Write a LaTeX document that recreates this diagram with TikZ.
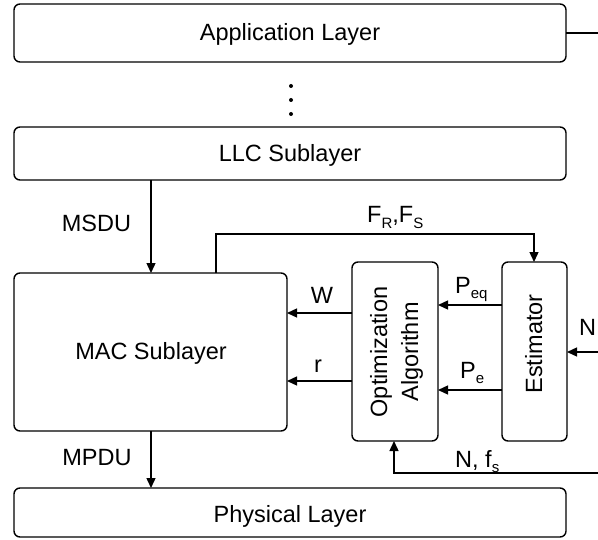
\documentclass[tikz,border=0pt]{standalone}
\usepackage{fontspec}
\setmainfont{Liberation Sans}
\usetikzlibrary{arrows.meta}
\newcommand\sbx[1]{\raisebox{-0.22em}{\fontsize{15bp}{15bp}\selectfont #1}}
\begin{document}
\begin{tikzpicture}[x=1bp,y=-1bp,
  box/.style={draw, line width=1.4bp, rounded corners=6bp, outer sep=0pt, inner sep=0pt, anchor=north west},
  lbl/.style={inner sep=0pt, anchor=base, font=\fontsize{23.5bp}{28bp}\selectfont},
  lblw/.style={lbl, anchor=base west},
  conn/.style={line width=1.4bp},
  arr/.style={conn, -{Triangle[length=10bp,width=9bp]}}]
\useasboundingbox (0,0) rectangle (598,540);

% boxes
\node[box, minimum width=552bp, minimum height=58bp] (app) at (14,4) {};
\node[box, minimum width=552bp, minimum height=53bp] (llc) at (14,127) {};
\node[box, minimum width=273bp, minimum height=158bp] (mac) at (14,273) {};
\node[box, minimum width=86bp, minimum height=179bp] (opt) at (352,262) {};
\node[box, minimum width=65bp, minimum height=179bp] (est) at (502,262) {};
\node[box, minimum width=552bp, minimum height=49bp] (phy) at (14,488) {};

% box texts
\node[lbl] (appt) at (290,41) {Application Layer};
\node[lbl] (llct) at (290,162) {LLC Sublayer};
\node[lbl] (mact) at (151,359) {MAC Sublayer};
\node[lbl] (phyt) at (290,522) {Physical Layer};
\node[lbl, rotate=90] (optt1) at (387,352) {Optimization};
\node[lbl, rotate=90] (optt2) at (418,352) {Algorithm};
\node[lbl, rotate=90] (estt) at (542,344) {Estimator};

% dots
\fill (291,86) circle (2bp);
\fill (291,100) circle (2bp);
\fill (291,114) circle (2bp);

% helper coordinates
\coordinate (appout) at (598,33);
\coordinate (xms) at (151,0);
\coordinate (f1) at (216,234);
\coordinate (f2) at (534,234);
\coordinate (yw) at (0,313);
\coordinate (yr) at (0,381);
\coordinate (ypeq) at (0,305);
\coordinate (ype) at (0,390);
\coordinate (nin) at (598,352);
\coordinate (nf) at (598,473);
\coordinate (nfx) at (394,473);

% connectors
\draw[conn] (appout -| app.east) -- (appout);
\draw[arr] (xms |- llc.south) -- (xms |- mac.north);
\draw[arr] (f1 |- mac.north) -- (f1) -- (f2) -- (f2 |- est.north);
\draw[arr] (yw -| opt.west) -- (yw -| mac.east);
\draw[arr] (yr -| opt.west) -- (yr -| mac.east);
\draw[arr] (ypeq -| est.west) -- (ypeq -| opt.east);
\draw[arr] (ype -| est.west) -- (ype -| opt.east);
\draw[arr] (nin) -- (nin -| est.east);
\draw[arr] (nf) -- (nfx) -- (nfx |- opt.south);
\draw[arr] (xms |- mac.south) -- (xms |- phy.north);

% labels
\node[lbl] (msdu) at (96.5,232) {MSDU};
\node[lbl] (mpdu) at (97,465) {MPDU};
\node[lblw] (frfs) at (367,223) {F\sbx{R},F\sbx{S}};
\node[lbl] (wl) at (322,303) {W};
\node[lbl] (rl) at (318,372) {r};
\node[lblw] (peq) at (455,293) {P\sbx{eq}};
\node[lblw] (pe) at (460,378) {P\sbx{e}};
\node[lblw] (nl) at (579,335) {N};
\node[lblw] (nfs) at (455,467) {N, f\sbx{s}};
\end{tikzpicture}
\end{document}
